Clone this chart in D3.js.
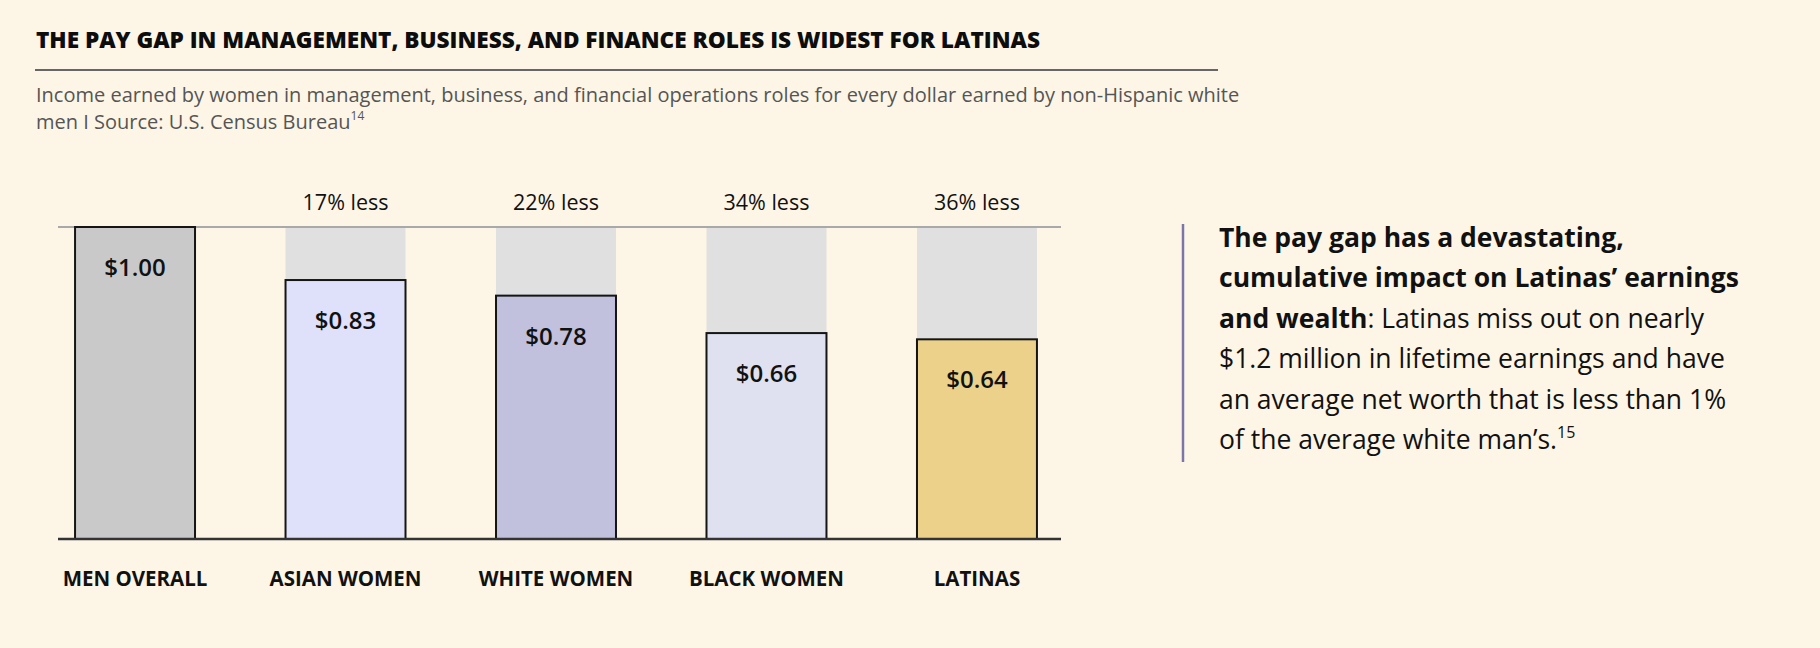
<!DOCTYPE html>
<html>
<head>
<meta charset="utf-8">
<script src="https://cdn.jsdelivr.net/npm/d3@7/dist/d3.min.js"></script>
<style>
  body { margin: 0; background: #fdf6e7; }
  svg text { font-family: "Open Sans", Lato, sans-serif; }
</style>
</head>
<body>
<svg id="chart"></svg>
<script>
// data
var categories = ["MEN OVERALL", "ASIAN WOMEN", "WHITE WOMEN", "BLACK WOMEN", "LATINAS"];
var values = [1.00, 0.83, 0.78, 0.66, 0.64];
var valueLabels = ["$1.00", "$0.83", "$0.78", "$0.66", "$0.64"];
var gapLabels = ["", "17% less", "22% less", "34% less", "36% less"];
var barColors = ["#c9c9c9", "#dfe0fa", "#c1c1dd", "#dfe1f0", "#ebd189"];

var titleText = "THE PAY GAP IN MANAGEMENT, BUSINESS, AND FINANCE ROLES IS WIDEST FOR LATINAS";
var subtitleLines = [
  "Income earned by women in management, business, and financial operations roles for every dollar earned by non-Hispanic white",
  "men I Source: U.S. Census Bureau"
];
// each line is a list of [text, bold]
var noteLines = [
  [["The pay gap has a devastating,", true]],
  [["cumulative impact on Latinas\u2019 earnings", true]],
  [["and wealth", true], [": Latinas miss out on nearly", false]],
  [["$1.2 million in lifetime earnings and have", false]],
  [["an average net worth that is less than 1%", false]],
  [["of the average white man\u2019s.", false]]
];

var width = 1820, height = 648;

var svg = d3.select("#chart")
    .attr("width", width)
    .attr("height", height);

svg.append("rect")
    .attr("width", width)
    .attr("height", height)
    .attr("fill", "#fdf6e7");

// header
svg.append("text")
    .attr("x", 36)
    .attr("y", 48)
    .attr("font-size", 22.6)
    .attr("font-weight", 800)
    .attr("fill", "#0d0d0d")
    .text(titleText);

svg.append("line")
    .attr("x1", 35).attr("x2", 1218)
    .attr("y1", 70).attr("y2", 70)
    .attr("stroke", "#666")
    .attr("stroke-width", 2);

var sub = svg.append("text")
    .attr("font-size", 20)
    .attr("fill", "#555");
subtitleLines.forEach(function(l, i) {
  sub.append("tspan")
      .attr("x", 36)
      .attr("y", 102 + i * 26.5)
      .text(l);
});
sub.append("tspan")
    .attr("font-size", 12)
    .attr("dy", -9)
    .text("14");

// chart
var x = d3.scaleBand()
    .domain(categories)
    .range([54, 1058])
    .paddingInner(0.43)
    .paddingOuter(0.1);

var y = d3.scaleLinear()
    .domain([0, 1])
    .range([539, 227]);

var g = svg.append("g");

// grey tracks up to $1.00
g.selectAll(".track")
    .data(categories)
  .enter().append("rect")
    .attr("class", "track")
    .attr("x", function(d) { return x(d); })
    .attr("y", y(1))
    .attr("width", x.bandwidth())
    .attr("height", y(0) - y(1))
    .attr("fill", "#e0e0e0");

g.append("line")
    .attr("x1", 58).attr("x2", 1061)
    .attr("y1", y(1)).attr("y2", y(1))
    .attr("stroke", "#a9a9a9")
    .attr("stroke-width", 2);

g.selectAll(".bar")
    .data(values)
  .enter().append("rect")
    .attr("class", "bar")
    .attr("x", function(d, i) { return x(categories[i]); })
    .attr("y", function(d) { return y(d); })
    .attr("width", x.bandwidth())
    .attr("height", function(d) { return y(0) - y(d); })
    .attr("fill", function(d, i) { return barColors[i]; })
    .attr("stroke", "#151515")
    .attr("stroke-width", 2);

g.append("line")
    .attr("x1", 58).attr("x2", 1061)
    .attr("y1", y(0)).attr("y2", y(0))
    .attr("stroke", "#333")
    .attr("stroke-width", 2.5);

g.selectAll(".val")
    .data(values)
  .enter().append("text")
    .attr("class", "val")
    .attr("x", function(d, i) { return x(categories[i]) + x.bandwidth() / 2; })
    .attr("y", function(d) { return y(d) + 49; })
    .attr("text-anchor", "middle")
    .attr("font-size", 24)
    .attr("font-weight", 600)
    .attr("fill", "#111")
    .text(function(d, i) { return valueLabels[i]; });

g.selectAll(".gap")
    .data(gapLabels)
  .enter().append("text")
    .attr("class", "gap")
    .attr("x", function(d, i) { return x(categories[i]) + x.bandwidth() / 2; })
    .attr("y", 210)
    .attr("text-anchor", "middle")
    .attr("font-size", 21.5)
    .attr("fill", "#111")
    .text(function(d) { return d; });

g.selectAll(".cat")
    .data(categories)
  .enter().append("text")
    .attr("class", "cat")
    .attr("x", function(d) { return x(d) + x.bandwidth() / 2; })
    .attr("y", 586)
    .attr("text-anchor", "middle")
    .attr("font-size", 20.5)
    .attr("font-weight", 700)
    .attr("fill", "#111")
    .text(function(d) { return d; });

// side note
svg.append("line")
    .attr("x1", 1183).attr("x2", 1183)
    .attr("y1", 224).attr("y2", 462)
    .attr("stroke", "#7d74a8")
    .attr("stroke-width", 2.5);

var note = svg.append("g");
noteLines.forEach(function(parts, i) {
  var t = note.append("text")
      .attr("x", 1219)
      .attr("y", 247 + i * 40.4)
      .attr("font-size", 26.5)
      .attr("fill", "#111");
  parts.forEach(function(p) {
    t.append("tspan")
        .attr("font-weight", p[1] ? 700 : 400)
        .text(p[0]);
  });
  if (i === noteLines.length - 1) {
    t.append("tspan")
        .attr("font-size", 16)
        .attr("dy", -11)
        .text("15");
  }
});
</script>
</body>
</html>
